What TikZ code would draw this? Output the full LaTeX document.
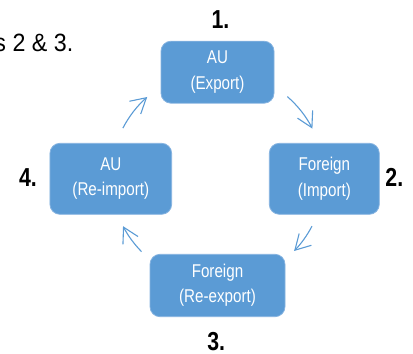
\documentclass[tikz,border=0pt]{standalone}
\usepackage{fontspec}
\setmainfont{Liberation Sans}[FakeStretch=0.82]
\newfontfamily\notefont{Liberation Sans}[FakeStretch=0.93]
\usetikzlibrary{arrows.meta,positioning}
\definecolor{boxblue}{HTML}{5B9BD5}
\definecolor{boxedge}{HTML}{86B3E0}

\begin{document}
\begin{tikzpicture}[
    x=1pt, y=1pt,
    >={Straight Barb[length=15pt,width=17pt]},
    stage/.style={
		rectangle,
		rounded corners=10pt,
		draw=boxedge,
		line width=0.8pt,
		fill=boxblue,
		text=white,
		align=center,
		inner sep=0pt,
		font=\fontsize{18.5}{25.3}\selectfont
	},
	num/.style={
		inner sep=0pt,
		font=\fontsize{26}{30}\selectfont\bfseries
	},
	flow/.style={
		->,
		draw=boxblue,
		line width=1.1pt
	}
  ]
  \useasboundingbox (0,0) rectangle (413,-354);

    % We start by placing the blocks
  \node [stage, minimum width=113pt, minimum height=62pt] (export) at (217.5,-72.2) {AU\\(Export)};
  \node [stage, minimum width=110pt, minimum height=71pt] (import) at (324.3,-178.8) {Foreign\\(Import)};
  \node [stage, minimum width=135pt, minimum height=62.4pt] (reexport) at (217.5,-285.5) {Foreign\\(Re-export)};
  \node [stage, minimum width=121.7pt, minimum height=71pt] (reimport) at (110.8,-178.8) {AU\\(Re-import)};

  \node [num] (step1) at (220.5,-19.5) {1.};
  \node [num] (step2) at (394.3,-177) {2.};
  \node [num] (step3) at (216.2,-341.3) {3.};
  \node [num] (step4) at (28,-177.3) {4.};

  \node [anchor=base east, inner sep=0pt, font=\notefont\fontsize{25}{30}\selectfont] (note) at (73.5,-51.7) {s 2 \& 3.};

  % the cycle
  \coordinate (hub) at (217.5,-177);
  \coordinate (from1) at ([shift={(49:106.5pt)}]hub);
  \coordinate (from2) at ([shift={(-27.5:106.5pt)}]hub);
  \coordinate (from3) at ([shift={(224.5:106.5pt)}]hub);
  \coordinate (from4) at ([shift={(152.7:106.5pt)}]hub);

  \draw [flow] (from1) arc [start angle=49, end angle=27, radius=106.5pt];
  \draw [flow] (from2) arc [start angle=-27.5, end angle=-44, radius=106.5pt];
  \draw [flow] (from3) arc [start angle=224.5, end angle=207.5, radius=106.5pt];
  \draw [flow] (from4) arc [start angle=152.7, end angle=131.3, radius=106.5pt];

\end{tikzpicture}
\end{document}
